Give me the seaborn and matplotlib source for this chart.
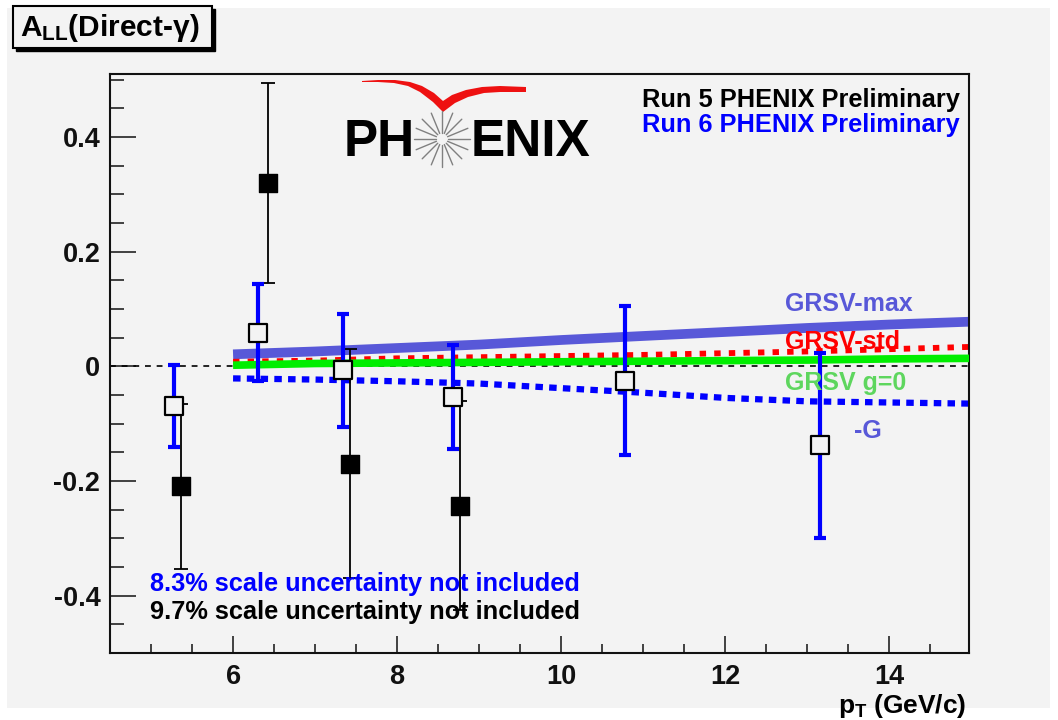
import numpy as np
import pandas as pd
import matplotlib
matplotlib.use("Agg")
import matplotlib.pyplot as plt
import seaborn as sns
from matplotlib.patches import Rectangle, Polygon
from matplotlib.lines import Line2D
from matplotlib.ticker import MultipleLocator

# ---------------- data ----------------
run5_pt = [5.37, 6.43, 7.43, 8.76]
run5_all = [-0.209, 0.320, -0.170, -0.243]
run5_err = [0.144, 0.174, 0.200, 0.182]

run6_pt = [5.28, 6.31, 7.34, 8.68, 10.78, 13.15]
run6_all = [-0.069, 0.059, -0.007, -0.054, -0.025, -0.138]
run6_err = [0.072, 0.085, 0.098, 0.091, 0.130, 0.162]

theory_pt = [6, 7, 8, 9, 10, 11, 12, 13, 14, 15]
grsv_max = [0.021, 0.026, 0.032, 0.038, 0.046, 0.053, 0.060, 0.067, 0.073, 0.078]
grsv_std = [0.008, 0.010, 0.014, 0.016, 0.018, 0.020, 0.023, 0.026, 0.030, 0.034]
grsv_g0 = [0.002, 0.005, 0.006, 0.007, 0.008, 0.009, 0.010, 0.011, 0.013, 0.014]
grsv_negG = [-0.021, -0.023, -0.026, -0.030, -0.038, -0.046, -0.055, -0.061, -0.063, -0.065]

x_ticks = [6, 8, 10, 12, 14]
y_ticks = [-0.4, -0.2, 0, 0.2, 0.4]
y_tick_labels = ["-0.4", "-0.2", "0", "0.2", "0.4"]

BG = "#f3f3f3"
SLATE = "#5858d8"
FONT = "Liberation Sans"

sns.set_style("ticks")
plt.rcParams.update({
    "font.family": [FONT, "DejaVu Sans"],
    "font.weight": "bold",
    "mathtext.fontset": "custom",
    "mathtext.rm": "Liberation Sans:bold",
    "mathtext.it": "Liberation Sans:bold",
    "mathtext.bf": "Liberation Sans:bold",
})

W, H = 1058, 720
fig = plt.figure(figsize=(W / 100, H / 100), dpi=100, facecolor="white")


def fx(p):
    return p / W


def fy(p):
    return 1 - p / H


# canvas background
fig.add_artist(Rectangle((fx(7), fy(708)), fx(1050) - fx(7), fy(8) - fy(708),
                         transform=fig.transFigure, facecolor=BG, edgecolor="none", zorder=-10))

ax = fig.add_axes([fx(110), fy(653), fx(969) - fx(110), fy(74) - fy(653)])
ax.set_facecolor(BG)
ax.set_xlim(4.5, 14.97)
ax.set_ylim(-0.5, 0.51)

# zero line
ax.axhline(0, color="black", lw=1.2, ls=(0, (3.5, 3.5)), zorder=1)

# theory curves
df = pd.DataFrame({"pt": theory_pt, "max": grsv_max, "std": grsv_std,
                   "g0": grsv_g0, "negG": grsv_negG})
sns.lineplot(data=df, x="pt", y="max", ax=ax, color=SLATE, linewidth=7,
             solid_capstyle="butt", zorder=2)
sns.lineplot(data=df, x="pt", y="std", ax=ax, color="#ff0000", linewidth=4.2,
             zorder=2)
ax.lines[-1].set_linestyle((0, (1.1, 1.4)))
sns.lineplot(data=df, x="pt", y="g0", ax=ax, color="#00ee00", linewidth=5.5,
             solid_capstyle="butt", zorder=3)
sns.lineplot(data=df, x="pt", y="negG", ax=ax, color="#0000ff", linewidth=4.5,
             zorder=2)
ax.lines[-1].set_linestyle((0, (1.2, 1.0)))

# data points
ax.errorbar(run5_pt, run5_all, yerr=run5_err, fmt="none", ecolor="black",
            elinewidth=1.3, capsize=5, capthick=1.3, zorder=5)
ax.errorbar(run6_pt, run6_all, yerr=run6_err, fmt="none", ecolor="#0000ff",
            elinewidth=3, capsize=4, capthick=3, zorder=6)
sns.scatterplot(x=run5_pt, y=run5_all, ax=ax, marker="s", s=150, color="black",
                edgecolor="black", linewidth=1, zorder=7)
sns.scatterplot(x=run6_pt, y=run6_all, ax=ax, marker="s", s=180, color=BG,
                edgecolor="black", linewidth=1.6, zorder=8)

ax.set_xlabel("")
ax.set_ylabel("")

# ticks / spines
ax.set_xticks(x_ticks)
ax.set_yticks(y_ticks)
ax.set_yticklabels(y_tick_labels)
ax.xaxis.set_minor_locator(MultipleLocator(0.5))
ax.yaxis.set_minor_locator(MultipleLocator(0.05))
ax.tick_params(axis="x", which="major", direction="in", length=12.5, width=1.1,
               pad=8, labelsize=19.5, top=False, colors="#111111")
ax.tick_params(axis="x", which="minor", direction="in", length=6.5, width=1.1, top=False,
               colors="#111111")
ax.tick_params(axis="y", which="major", direction="in", length=19, width=1.1,
               pad=7, labelsize=19.5, right=False, colors="#111111")
ax.tick_params(axis="y", which="minor", direction="in", length=10, width=1.1, right=False,
               colors="#111111")
for lab in ax.get_xticklabels() + ax.get_yticklabels():
    lab.set_fontweight("bold")
for sp in ax.spines.values():
    sp.set_visible(True)
    sp.set_linewidth(1.5)
    sp.set_color("#111111")

# curve labels
fig.text(fx(785), fy(304), "GRSV-max", color=SLATE, fontsize=18, weight="bold",
         ha="left", va="center", zorder=9)
fig.text(fx(785), fy(342), "GRSV-std", color="#ff0000", fontsize=18, weight="bold",
         ha="left", va="center", zorder=9)
fig.text(fx(785), fy(383), "GRSV g=0", color="#5ed65e", fontsize=18, weight="bold",
         ha="left", va="center", zorder=9)
fig.text(fx(854), fy(431), "-G", color=SLATE, fontsize=18, weight="bold",
         ha="left", va="center", zorder=9)

# run labels
fig.text(fx(960), fy(100), "Run 5 PHENIX Preliminary", color="black", fontsize=18.3,
         weight="bold", ha="right", va="center")
fig.text(fx(960), fy(125), "Run 6 PHENIX Preliminary", color="#0000ff", fontsize=18.3,
         weight="bold", ha="right", va="center")

# scale uncertainty notes
fig.text(fx(150), fy(584), "8.3% scale uncertainty not included", color="#0000ff",
         fontsize=18.3, weight="bold", ha="left", va="center")
fig.text(fx(150), fy(612), "9.7% scale uncertainty not included", color="black",
         fontsize=18.3, weight="bold", ha="left", va="center")

# axis title
fig.text(fx(966), fy(706), r"$p_{T}$ (GeV/c)", color="black", fontsize=19,
         weight="bold", ha="right", va="center")

# title box with shadow
fig.add_artist(Rectangle((fx(16), fy(51)), fx(212) - fx(13), fy(6) - fy(48),
                         transform=fig.transFigure, facecolor="black", edgecolor="black",
                         zorder=1))
fig.add_artist(Rectangle((fx(13), fy(48)), fx(212) - fx(13), fy(6) - fy(48),
                         transform=fig.transFigure, facecolor=BG, edgecolor="black",
                         lw=1.5, zorder=2))
fig.text(fx(20), fy(28), r"$A_{LL}$(Direct-γ)", color="black", fontsize=21.5,
         weight="bold", ha="left", va="center", zorder=3)

# PHENIX logo
fig.text(fx(344), fy(142), "PH", color="black", fontsize=37, weight="bold",
         ha="left", va="center")
fig.text(fx(471), fy(142), "ENIX", color="black", fontsize=37, weight="bold",
         ha="left", va="center")
cx, cy = 442, 139
for ang in np.linspace(0, 2 * np.pi, 16, endpoint=False):
    r0, r1 = 6, 28
    fig.add_artist(Line2D([fx(cx + r0 * np.cos(ang)), fx(cx + r1 * np.cos(ang))],
                          [fy(cy + r0 * np.sin(ang)), fy(cy + r1 * np.sin(ang))],
                          transform=fig.transFigure, color="#808080", lw=1.0))
swoosh_px = [(362, 81), (378, 80), (395, 80), (410, 82), (422, 86), (434, 93),
             (443, 101), (452, 95), (466, 90), (482, 87), (500, 86), (526, 87),
             (526, 92), (500, 92), (484, 93), (468, 97), (455, 103), (443, 112),
             (433, 102), (420, 92), (408, 86), (394, 83), (378, 82), (362, 82)]
fig.add_artist(Polygon([(fx(a), fy(b)) for a, b in swoosh_px], closed=True,
                       transform=fig.transFigure, facecolor="#ee1111", edgecolor="none"))

fig.savefig("out.png", dpi=100, facecolor=fig.get_facecolor())
